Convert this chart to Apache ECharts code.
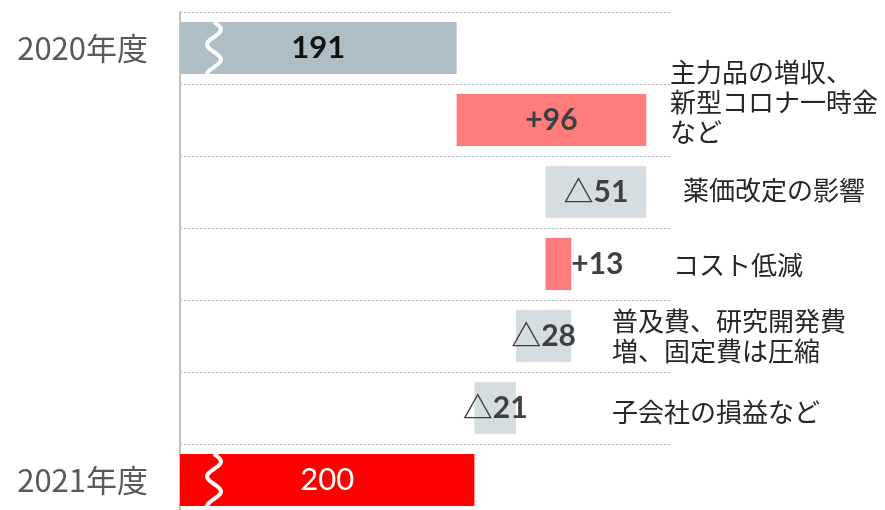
<!DOCTYPE html>
<html>
<head>
<meta charset="utf-8">
<script src="https://cdn.jsdelivr.net/npm/echarts@6/dist/echarts.min.js"></script>
<style>
	html, body { margin: 0; padding: 0; background: #fff; }
	#main { width: 885px; height: 510px; }
</style>
</head>
<body>
<div id="main"></div>
<script>
// 行（上から下）
var categories = ['2020年度', '主力品の増収', '薬価改定', 'コスト低減', '費用', '子会社', '2021年度'];
var startValue = 191;
var endValue = 200;
var changes = [96, -51, 13, -28, -21];
var notes = ['主力品の増収、\n新型コロナ一時金\nなど', '薬価改定の影響', 'コスト低減', '普及費、研究開発費\n増、固定費は圧縮', '子会社の損益など'];
var breakRows = [0, 6]; // 波線（省略記号）を入れる行

var AXIS_MIN = 51;

// waterfall の下駄と本体
var baseData = [0];
var barData = [startValue];
var labels = [String(startValue)];
var kinds = ['start'];
var total = startValue;
changes.forEach(function (c) {
	var next = total + c;
	baseData.push(Math.min(total, next));
	barData.push(Math.abs(c));
	labels.push(c >= 0 ? '+' + c : '△' + Math.abs(c));
	kinds.push(c >= 0 ? 'up' : 'down');
	total = next;
});
baseData.push(0);
barData.push(endValue);
labels.push(String(endValue));
kinds.push('end');

var colorOf = { start: '#aebec7', up: '#ff7c7c', down: '#d6dde0', end: '#ff0000' };
var labelColorOf = { start: '#111', up: '#404040', down: '#404040', end: '#fff' };

var myChart = echarts.init(document.getElementById('main'));

var noteGraphics = [
	{ left: 670, top: 57 },
	{ left: 683, top: 175 },
	{ left: 673, top: 250 },
	{ left: 612, top: 306 },
	{ left: 612, top: 397 }
].map(function (p, i) {
	return {
		type: 'text',
		left: p.left,
		top: p.top,
		style: {
			text: notes[i],
			fill: '#262626',
			font: '26px "Noto Sans CJK JP"',
			lineHeight: 30
		}
	};
});

var option = {
	animation: false,
	grid: {
		left: 180,
		right: 213,
		top: 12,
		height: 504,
		outerBoundsMode: 'none'
	},
	xAxis: {
		type: 'value',
		min: AXIS_MIN,
		max: 300,
		show: false
	},
	yAxis: {
		type: 'category',
		inverse: true,
		data: categories,
		axisLine: { show: true, lineStyle: { color: '#c0c0c0', width: 2 } },
		axisTick: { show: false },
		splitLine: { show: true, lineStyle: { color: '#b8b8b8', type: [2, 2], width: 1 } },
		axisLabel: {
			margin: 32,
			fontSize: 31,
			color: '#595959',
			fontFamily: '"Noto Sans CJK JP"',
			formatter: function (v, i) {
				return (i === 0 || i === categories.length - 1) ? v : '';
			}
		}
	},
	graphic: noteGraphics,
	series: [
		{
			type: 'bar',
			stack: 'w',
			silent: true,
			itemStyle: { color: 'transparent' },
			data: baseData
		},
		{
			type: 'bar',
			stack: 'w',
			barWidth: 52,
			data: barData.map(function (v, i) {
				return {
					value: v,
					itemStyle: { color: colorOf[kinds[i]] },
					label: {
						position: i === 3 ? 'right' : 'inside',
						distance: 0,
						color: labelColorOf[kinds[i]],
						fontSize: kinds[i] === 'start' || kinds[i] === 'end' ? 31 : 30,
						fontWeight: kinds[i] === 'end' ? 'normal' : 'bold'
					}
				};
			}),
			label: {
				show: true,
				fontFamily: 'Lato, "Noto Sans CJK JP"',
				formatter: function (p) { return labels[p.dataIndex]; }
			}
		}
	]
};

myChart.setOption(option);

// 波線（軸を省略している印）
var waves = breakRows.map(function (r) {
	var c = myChart.convertToPixel({ gridIndex: 0 }, [AXIS_MIN, r]);
	var cx = c[0] + 34;
	var y0 = c[1] - 26;
	var y1 = c[1] + 34;
	var pts = [];
	for (var y = y0; y <= y1; y += 2) {
		pts.push([cx + 7 * Math.sin((y - y0) / 30 * 2 * Math.PI), y]);
	}
	return {
		type: 'polyline',
		z: 100,
		shape: { points: pts },
		style: { stroke: '#fff', lineWidth: 4, fill: null }
	};
});
myChart.setOption({ graphic: noteGraphics.concat(waves) });
</script>
</body>
</html>
